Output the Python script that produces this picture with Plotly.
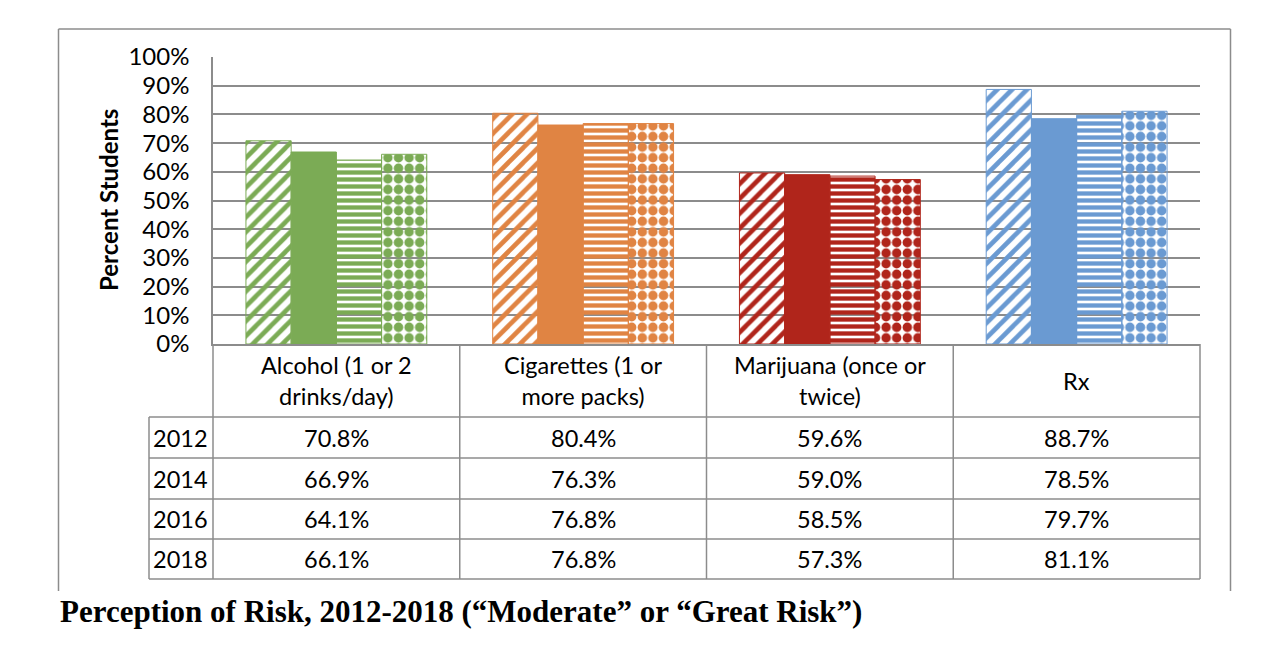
import plotly.graph_objects as go

categories = ["Alcohol (1 or 2 drinks/day)", "Cigarettes (1 or more packs)",
              "Marijuana (once or twice)", "Rx"]
header_labels = ["Alcohol (1 or 2<br>drinks/day)", "Cigarettes (1 or<br>more packs)",
                 "Marijuana (once or<br>twice)", "Rx"]
years = ["2012", "2014", "2016", "2018"]
values = {
    "2012": [70.8, 80.4, 59.6, 88.7],
    "2014": [66.9, 76.3, 59.0, 78.5],
    "2016": [64.1, 76.8, 58.5, 79.7],
    "2018": [66.1, 76.8, 57.3, 81.1],
}
cat_colors = ["#7BAB55", "#E08443", "#B0251B", "#6A9AD2"]
patterns = {"2012": ("/", 10.5, 0.45), "2014": ("", 8, 1.0),
            "2016": ("-", 7, 0.62), "2018": (".", 10.6, 0.62)}

OFF = 8  # page body margin
W, H = 1284 - OFF, 658 - OFF
L, R, T, B = 213, 1200, 57, 344  # target screen pixels
GRID = "#8C8C8C"
FONT = "Lato"
FS = 23.5

def px(x):
    return (x - L) / (R - L)

def py(y):
    return (B - y) / (B - T)

fig = go.Figure()
for yr in years:
    shape, size, sol = patterns[yr]
    fig.add_trace(go.Bar(
        name=yr, x=categories, y=values[yr],
        marker=dict(
            color=cat_colors,
            line=dict(color=cat_colors, width=1),
            pattern=dict(shape=shape, size=size, solidity=sol,
                         fillmode="replace", bgcolor="white"),
        ),
    ))

fig.update_layout(
    width=W, height=H,
    margin=dict(l=L - OFF, r=W - (R - OFF), t=T - OFF, b=H - (B - OFF)),
    barmode="group", bargap=0.267, bargroupgap=0,
    plot_bgcolor="white", paper_bgcolor="white",
    showlegend=False,
    font=dict(family=FONT, size=FS, color="black"),
)
fig.update_xaxes(showticklabels=False, showgrid=False, showline=True,
                 linecolor=GRID, linewidth=1.5, ticks="")
fig.update_yaxes(range=[0, 100], dtick=10, ticksuffix="%", showgrid=True,
                 gridcolor=GRID, gridwidth=1.5, showline=True, linecolor=GRID,
                 linewidth=1.5, ticks="", ticklabelstandoff=17,
                 tickfont=dict(family=FONT, size=24), zeroline=False)

shapes = []
annots = []
line = dict(color=GRID, width=1.5)
# outer chart frame (no bottom edge)
for x0, y0, x1, y1 in [(58.5, 29, 58.5, 591), (58.5, 29, 1230.5, 29), (1230.5, 29, 1230.5, 591)]:
    shapes.append(dict(type="line", xref="paper", yref="paper",
                       x0=px(x0), y0=py(y0), x1=px(x1), y1=py(y1), line=line))

# table geometry
row_y = [344, 417, 458, 499, 539, 579]
col_x = [L + i * (R - L) / 4 for i in range(5)]
year_left = 149
for yv in row_y[1:]:
    shapes.append(dict(type="line", xref="paper", yref="paper",
                       x0=px(year_left), x1=px(R), y0=py(yv), y1=py(yv), line=line))
for xv in col_x:
    shapes.append(dict(type="line", xref="paper", yref="paper",
                       x0=px(xv), x1=px(xv), y0=py(row_y[0]), y1=py(row_y[-1]), line=line))
shapes.append(dict(type="line", xref="paper", yref="paper",
                   x0=px(year_left), x1=px(year_left), y0=py(row_y[1]), y1=py(row_y[-1]), line=line))

for i, lab in enumerate(header_labels):
    annots.append(dict(x=categories[i], xref="x", yref="paper",
                       y=py((row_y[0] + row_y[1]) / 2), text=lab, showarrow=False,
                       font=dict(family=FONT, size=FS), align="center",
                       yanchor="middle", xanchor="center"))
for r, yr in enumerate(years):
    yc = py((row_y[r + 1] + row_y[r + 2]) / 2)
    annots.append(dict(x=px(year_left + 2), xref="paper", yref="paper", y=yc,
                       text=yr, showarrow=False, xanchor="left", yanchor="middle",
                       font=dict(family=FONT, size=FS)))
    for i, v in enumerate(values[yr]):
        annots.append(dict(x=categories[i], xref="x", yref="paper", y=yc,
                           text=f"{v:.1f}%", showarrow=False, xanchor="center",
                           yanchor="middle", font=dict(family=FONT, size=FS)))

annots.append(dict(x=px(108), y=py(200), xref="paper", yref="paper",
                   text="<b>Percent Students</b>", textangle=-90, showarrow=False,
                   xanchor="center", yanchor="middle",
                   font=dict(family=FONT, size=24)))
annots.append(dict(x=px(58), y=py(611), xref="paper", yref="paper",
                   text="<b>Perception of Risk, 2012-2018 (\u201cModerate\u201d or \u201cGreat Risk\u201d)</b>",
                   showarrow=False, xanchor="left", yanchor="middle",
                   font=dict(family="Liberation Serif", size=31)))

fig.update_layout(shapes=shapes, annotations=annots)
fig.write_html("out.html")
